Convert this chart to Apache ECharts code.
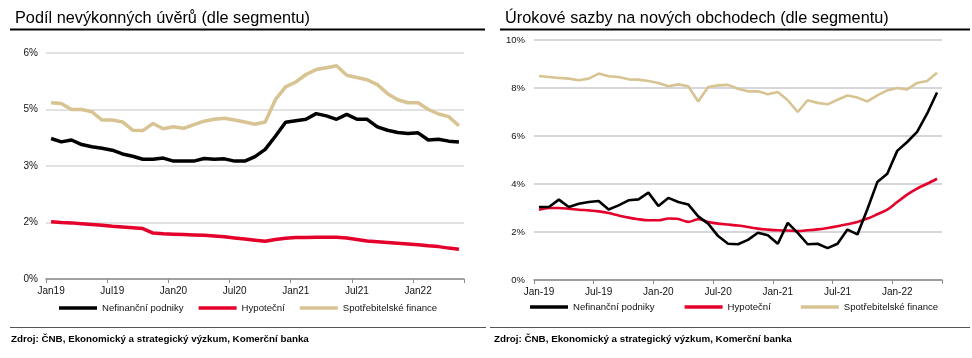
<!DOCTYPE html>
<html>
<head>
<meta charset="utf-8">
<script src="https://cdn.jsdelivr.net/npm/echarts@6/dist/echarts.min.js"></script>
<style>
html,body{margin:0;padding:0;background:#fff;}
#c{width:972px;height:358px;}
</style>
</head>
<body>
<div id="c"></div>
<script>
// ---- data ----
var monthsLeft = ["Jan19","Feb19","Mar19","Apr19","May19","Jun19","Jul19","Aug19","Sep19","Oct19","Nov19","Dec19",
  "Jan20","Feb20","Mar20","Apr20","May20","Jun20","Jul20","Aug20","Sep20","Oct20","Nov20","Dec20",
  "Jan21","Feb21","Mar21","Apr21","May21","Jun21","Jul21","Aug21","Sep21","Oct21","Nov21","Dec21",
  "Jan22","Feb22","Mar22","Apr22","May22"];
var monthsRight = ["Jan-19","Feb-19","Mar-19","Apr-19","May-19","Jun-19","Jul-19","Aug-19","Sep-19","Oct-19","Nov-19","Dec-19",
  "Jan-20","Feb-20","Mar-20","Apr-20","May-20","Jun-20","Jul-20","Aug-20","Sep-20","Oct-20","Nov-20","Dec-20",
  "Jan-21","Feb-21","Mar-21","Apr-21","May-21","Jun-21","Jul-21","Aug-21","Sep-21","Oct-21","Nov-21","Dec-21",
  "Jan-22","Feb-22","Mar-22","Apr-22","May-22"];

// Left chart: NPL ratio (%)
var nplCorporate = [3.73,3.64,3.69,3.57,3.51,3.47,3.42,3.32,3.26,3.18,3.18,3.21,
  3.13,3.13,3.13,3.20,3.18,3.19,3.13,3.13,3.25,3.44,3.79,4.16,
  4.20,4.24,4.39,4.33,4.24,4.37,4.24,4.24,4.04,3.95,3.89,3.86,
  3.88,3.69,3.71,3.66,3.64];
var nplMortgage = [1.52,1.50,1.49,1.47,1.45,1.43,1.40,1.38,1.36,1.34,1.22,1.20,
  1.19,1.18,1.17,1.16,1.14,1.12,1.09,1.06,1.03,1.00,1.05,1.08,
  1.10,1.10,1.11,1.11,1.11,1.09,1.05,1.01,0.99,0.97,0.95,0.93,
  0.91,0.88,0.86,0.82,0.79];
var nplConsumer = [4.68,4.66,4.50,4.50,4.44,4.22,4.22,4.17,3.95,3.94,4.13,3.99,
  4.04,4.00,4.10,4.19,4.24,4.27,4.22,4.17,4.11,4.17,4.76,5.10,
  5.23,5.43,5.56,5.61,5.66,5.41,5.35,5.29,5.16,4.92,4.76,4.68,
  4.68,4.50,4.38,4.31,4.07];

// Right chart: interest rates on new business (%)
var rateCorporate = [3.04,3.04,3.35,3.04,3.18,3.25,3.29,2.94,3.11,3.32,3.36,3.64,
  3.08,3.42,3.25,3.15,2.65,2.35,1.83,1.51,1.49,1.67,1.97,1.86,
  1.51,2.38,1.96,1.49,1.51,1.33,1.51,2.10,1.90,2.95,4.08,4.43,
  5.38,5.75,6.17,6.93,7.81];
var rateMortgage = [2.93,3.00,3.00,2.97,2.93,2.90,2.86,2.79,2.69,2.60,2.53,2.49,
  2.49,2.56,2.54,2.42,2.53,2.42,2.35,2.31,2.27,2.21,2.14,2.10,
  2.07,2.06,2.04,2.07,2.11,2.17,2.24,2.32,2.42,2.56,2.74,2.93,
  3.25,3.56,3.81,4.01,4.22];
var rateConsumer = [8.50,8.46,8.42,8.39,8.32,8.39,8.60,8.49,8.46,8.36,8.35,8.29,
  8.21,8.07,8.15,8.07,7.44,8.04,8.11,8.13,7.97,7.86,7.86,7.74,
  7.83,7.49,7.00,7.49,7.38,7.32,7.51,7.69,7.60,7.44,7.69,7.90,
  8.00,7.94,8.21,8.29,8.64];

var seriesNames = ["Nefinanční podniky","Hypoteční","Spotřebitelské finance"];
var titles = ["Podíl nevýkonných úvěrů (dle segmentu)","Úrokové sazby na nových obchodech (dle segmentu)"];
var sourceText = "Zdroj: ČNB, Ekonomický a strategický výzkum, Komerční banka";

// ---- chart ----
var FONT = "Liberation Sans, Arial, sans-serif";
var cBlack = "#000000", cRed = "#e4002b", cTan = "#d8c392";
var chart = echarts.init(document.getElementById("c"), null, {renderer:"canvas"});

function every6(i){ return i % 6 === 0; }

function xAxisFor(idx, data){
  return {
    type:"category", gridIndex:idx, data:data, boundaryGap:true,
    axisLine:{show:true, lineStyle:{color:"#8c8c8c", width:1.5}},
    axisTick:{show:true, interval:function(i){return every6(i);}, length:4, lineStyle:{color:"#8c8c8c", width:1}},
    axisLabel:{interval:function(i){return every6(i);}, color:"#111", fontSize:10, fontFamily:FONT, margin:7},
    splitLine:{show:false}
  };
}

var option = {
  animation:false,
  backgroundColor:"#fff",
  title:[
    {text:titles[0], left:10, top:6, textStyle:{fontSize:16.3, fontWeight:"normal", color:"#000", fontFamily:FONT}},
    {text:titles[1], left:500, top:6, textStyle:{fontSize:16.3, fontWeight:"normal", color:"#000", fontFamily:FONT}}
  ],
  graphic:[
    {type:"line", shape:{x1:10,y1:29.5,x2:485,y2:29.5}, style:{stroke:"#000", lineWidth:2}},
    {type:"line", shape:{x1:500,y1:29.5,x2:970,y2:29.5}, style:{stroke:"#000", lineWidth:2}},
    {type:"line", shape:{x1:10,y1:327.5,x2:486,y2:327.5}, style:{stroke:"#555", lineWidth:1}},
    {type:"line", shape:{x1:490,y1:327.5,x2:970,y2:327.5}, style:{stroke:"#555", lineWidth:1}},
    {type:"text", left:11, top:334, style:{text:sourceText, fill:"#000", font:"bold 9.8px "+FONT}},
    {type:"text", left:494, top:334, style:{text:sourceText, fill:"#000", font:"bold 9.8px "+FONT}}
  ],
  legend:[
    {data:seriesNames, left:59, top:303, padding:0, itemWidth:38, itemHeight:3.5, itemGap:15, icon:"rect",
      textStyle:{fontSize:9.6, color:"#111", fontFamily:FONT}, selectedMode:false},
    {data:seriesNames, left:530, top:302, padding:0, itemWidth:38, itemHeight:3.5, itemGap:30, icon:"rect",
      textStyle:{fontSize:9.6, color:"#111", fontFamily:FONT}, selectedMode:false}
  ],
  grid:[
    {left:46, right:508, top:53, bottom:79, containLabel:false},
    {left:534, right:30, top:40, bottom:78, containLabel:false}
  ],
  xAxis:[ xAxisFor(0, monthsLeft), xAxisFor(1, monthsRight) ],
  yAxis:[
    {type:"value", gridIndex:0, min:0, max:6, interval:1.5,
      axisLine:{show:false}, axisTick:{show:false},
      axisLabel:{formatter:function(v){return Math.round(v)+"%";}, color:"#111", fontSize:10, fontFamily:FONT, margin:8},
      splitLine:{show:true, lineStyle:{color:"#d9d9d9", width:1.5}}},
    {type:"value", gridIndex:1, min:0, max:10, interval:2,
      axisLine:{show:false}, axisTick:{show:false},
      axisLabel:{formatter:function(v){return v+"%";}, color:"#111", fontSize:9.5, fontFamily:FONT, margin:9},
      splitLine:{show:true, lineStyle:{color:"#c8c8d0", width:1.5}}}
  ],
  series:[
    {name:seriesNames[0], type:"line", xAxisIndex:0, yAxisIndex:0, data:nplCorporate, symbol:"none", lineStyle:{color:cBlack, width:3.5}, itemStyle:{color:cBlack}, z:4},
    {name:seriesNames[1], type:"line", xAxisIndex:0, yAxisIndex:0, data:nplMortgage, symbol:"none", lineStyle:{color:cRed, width:3.5}, itemStyle:{color:cRed}, z:3},
    {name:seriesNames[2], type:"line", xAxisIndex:0, yAxisIndex:0, data:nplConsumer, symbol:"none", lineStyle:{color:cTan, width:3.5}, itemStyle:{color:cTan}, z:2},
    {name:seriesNames[0], type:"line", xAxisIndex:1, yAxisIndex:1, data:rateCorporate, symbol:"none", lineStyle:{color:cBlack, width:2.6}, itemStyle:{color:cBlack}, z:4},
    {name:seriesNames[1], type:"line", xAxisIndex:1, yAxisIndex:1, data:rateMortgage, symbol:"none", smooth:0.3, lineStyle:{color:cRed, width:2.6}, itemStyle:{color:cRed}, z:3},
    {name:seriesNames[2], type:"line", xAxisIndex:1, yAxisIndex:1, data:rateConsumer, symbol:"none", lineStyle:{color:cTan, width:2.6}, itemStyle:{color:cTan}, z:2}
  ]
};
chart.setOption(option);
</script>
</body>
</html>
